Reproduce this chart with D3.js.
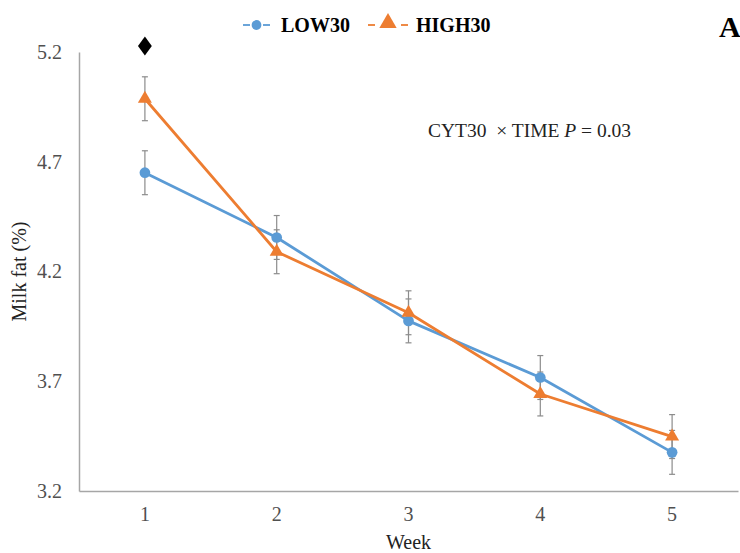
<!DOCTYPE html>
<html>
<head>
<meta charset="utf-8">
<script src="https://cdn.jsdelivr.net/npm/d3@7"></script>
<style>
  html, body { margin: 0; padding: 0; background: #fff; }
  svg { display: block; }
  text { font-family: "Liberation Serif", "Times New Roman", serif; }
</style>
</head>
<body>
<svg id="chart" width="740" height="553"></svg>
<script>
// Milk fat (%) by week for the two CYT30 groups (mean ± SE)
const weeks = [1, 2, 3, 4, 5];
const low30 = [4.65, 4.355, 3.975, 3.717, 3.376];
const high30 = [4.987, 4.29, 4.012, 3.642, 3.448];
const low30SE = [0.1, 0.1, 0.1, 0.1, 0.1];
const high30SE = [0.1, 0.1, 0.1, 0.1, 0.1];
const yTicks = [3.2, 3.7, 4.2, 4.7, 5.2];
const markedWeeks = [1];   // weeks flagged with a diamond

const svg = d3.select("#chart");
const plotLeft = 79, plotRight = 738, plotTop = 52, plotBottom = 491;

const x = d3.scaleBand().domain(weeks).range([plotLeft, plotRight]);
const cx = d => x(d) + x.bandwidth() / 2;
const y = d3.scaleLinear().domain([3.2, 5.2]).range([plotBottom, plotTop]);

// Axes
const yAxis = svg.append("g").attr("transform", `translate(${plotLeft},0)`)
  .call(d3.axisLeft(y).tickValues(yTicks).tickSize(0).tickPadding(17).tickFormat(d3.format(".1f")));
const xAxis = svg.append("g").attr("transform", `translate(0,${plotBottom})`)
  .call(d3.axisBottom(x).tickSize(0).tickPadding(16));
[yAxis, xAxis].forEach(g => {
  g.select(".domain").attr("stroke", "#a6a6a6").attr("stroke-width", 1.5);
  g.selectAll("text").attr("font-family", "Liberation Serif, serif")
    .attr("font-size", 20).attr("fill", "#505050");
});

const series = [
  { name: "LOW30", values: low30, se: low30SE, color: "#5b9bd5", symbol: d3.symbolCircle, size: 90 },
  { name: "HIGH30", values: high30, se: high30SE, color: "#ed7d31", symbol: d3.symbolTriangle, size: 85 }
];

// Error bars
series.forEach(s => {
  const g = svg.append("g").attr("stroke", "#8c8c8c").attr("stroke-width", 1.2);
  weeks.forEach((w, i) => {
    const xx = cx(w), hi = y(s.values[i] + s.se[i]), lo = y(s.values[i] - s.se[i]);
    g.append("line").attr("x1", xx).attr("x2", xx).attr("y1", hi).attr("y2", lo);
    g.append("line").attr("x1", xx - 3).attr("x2", xx + 3).attr("y1", hi).attr("y2", hi);
    g.append("line").attr("x1", xx - 3).attr("x2", xx + 3).attr("y1", lo).attr("y2", lo);
  });
});

// Lines and markers
const line = d3.line().x((d, i) => cx(weeks[i])).y(d => y(d));
series.forEach(s => {
  svg.append("path").datum(s.values).attr("d", line)
    .attr("fill", "none").attr("stroke", s.color).attr("stroke-width", 2.8)
    .attr("stroke-linejoin", "round");
  svg.append("g").selectAll("path").data(s.values).join("path")
    .attr("transform", (d, i) => `translate(${cx(weeks[i])},${y(d)})`)
    .attr("d", d3.symbol().type(s.symbol).size(s.size))
    .attr("fill", s.color);
});

// Significance diamonds
svg.append("g").selectAll("path").data(markedWeeks).join("path")
  .attr("d", d3.symbol().type(d3.symbolSquare).size(150))
  .attr("fill", "#000")
  .attr("transform", d => `translate(${cx(d)},46) scale(0.8,1.1) rotate(45)`);

// Legend
const legend = svg.append("g");
const legItems = [
  { s: series[0], x0: 243, x1: 270, tx: 281 },
  { s: series[1], x0: 368, x1: 408, tx: 416 }
];
legItems.forEach(it => {
  const mid = (it.x0 + it.x1) / 2;
  [[it.x0, it.x0 + 7], [it.x1 - 7, it.x1]].forEach(([a, b]) =>
    legend.append("line").attr("x1", a).attr("x2", b).attr("y1", 25).attr("y2", 25)
      .attr("stroke", it.s.color).attr("stroke-width", 1.8));
  legend.append("path").attr("transform", `translate(${mid},${it.s.symbol === d3.symbolCircle ? 25 : 23})`)
    .attr("d", d3.symbol().type(it.s.symbol).size(it.s.symbol === d3.symbolCircle ? 75 : 130))
    .attr("fill", it.s.color);
  legend.append("text").attr("x", it.tx).attr("y", 32)
    .attr("font-size", 20).attr("font-weight", "bold").attr("fill", "#000")
    .text(it.s.name);
});

// Interaction annotation
const ann = svg.append("text").attr("x", 428).attr("y", 137)
  .attr("font-size", 19.5).attr("fill", "#222").attr("xml:space", "preserve");
ann.append("tspan").text("CYT30  \u00d7 TIME ");
ann.append("tspan").attr("font-style", "italic").text("P");
ann.append("tspan").text(" = 0.03");

// Panel letter
svg.append("text").attr("x", 719).attr("y", 37)
  .attr("font-size", 30).attr("font-weight", "bold").attr("fill", "#000").text("A");

// Axis titles
svg.append("text").attr("transform", `translate(26,${(plotTop + plotBottom) / 2}) rotate(-90)`)
  .attr("text-anchor", "middle").attr("font-size", 20).attr("fill", "#222").text("Milk fat (%)");
svg.append("text").attr("x", cx(3)).attr("y", 549)
  .attr("text-anchor", "middle").attr("font-size", 20).attr("fill", "#222").text("Week");
</script>
</body>
</html>
